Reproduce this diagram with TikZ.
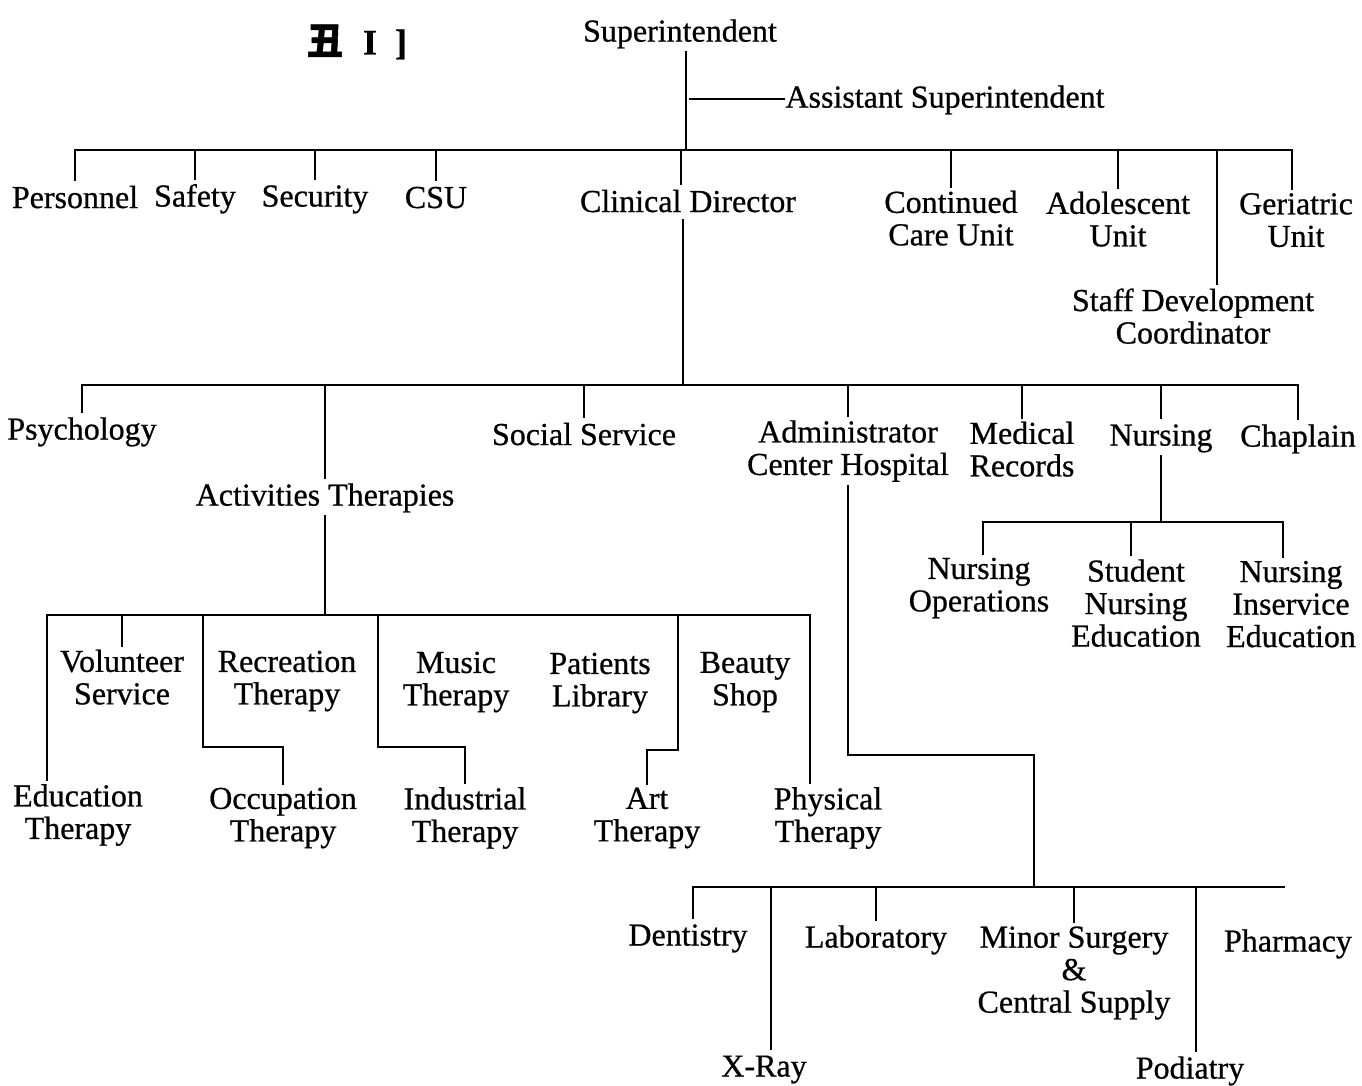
\documentclass[tikz,border=0pt]{standalone}
\usepackage{fontspec}
\setmainfont{Liberation Serif}[FakeBold=0.7]
\newfontfamily\cjkfont{Noto Sans CJK SC}[FakeBold=1.5]
\newcommand\unitstrut{\rule[-4pt]{0pt}{28pt}}
\tikzset{unit/.style={align=center, inner sep=0pt, outer sep=3pt,
    font=\fontsize{32}{32.5}\selectfont,
    execute at begin node=\unitstrut, execute at end node=\unitstrut},
  link/.style={line width=2.2pt},
  bar/.style={line width=2.8pt}
}

\begin{document}
\begin{tikzpicture}[x=1pt,y=-1pt]
      \useasboundingbox (0,0) rectangle (1362,1085);
      \node[unit, font=\fontsize{36}{36}\selectfont\bfseries] (title) at (357,42) {{\cjkfont 丑}\hspace{20pt}I\hspace{18pt}]};
      \node[unit] (sup) at (680,33) {Superintendent};
      \node[unit] (asst) at (945,99) {Assistant Superintendent};
      \node[unit] (pers) at (75,198) {Personnel};
      \node[unit] (safe) at (195,198) {Safety};
      \node[unit] (secu) at (315,198) {Security};
      \node[unit] (csu) at (436,198) {CSU};
      \node[unit] (clin) at (688,202) {Clinical Director};
      \node[unit] (cont) at (951,220) {Continued\\Care Unit};
      \node[unit] (adol) at (1118,221) {Adolescent\\Unit};
      \node[unit] (geri) at (1296,222) {Geriatric\\Unit};
      \node[unit] (staff) at (1193,318) {Staff Development\\Coordinator};
      \node[unit] (psy) at (82,431) {Psychology};
      \node[unit] (act) at (325,497) {Activities Therapies};
      \node[unit] (soc) at (584,435) {Social Service};
      \node[unit] (adm) at (848,451) {Administrator\\Center Hospital};
      \node[unit] (med) at (1022,451) {Medical\\Records};
      \node[unit] (nurs) at (1161,437) {Nursing};
      \node[unit] (chap) at (1298,438) {Chaplain};
      \node[unit] (nop) at (979,588) {Nursing\\Operations};
      \node[unit] (stu) at (1136,605) {Student\\Nursing\\Education};
      \node[unit] (nins) at (1291,606) {Nursing\\Inservice\\Education};
      \node[unit] (vol) at (122,679) {Volunteer\\Service};
      \node[unit] (rec) at (287,681) {Recreation\\Therapy};
      \node[unit] (mus) at (456,682) {Music\\Therapy};
      \node[unit] (lib) at (600,683) {Patients\\Library};
      \node[unit] (bea) at (745,682) {Beauty\\Shop};
      \node[unit] (edu) at (78,815) {Education\\Therapy};
      \node[unit] (occ) at (283,818) {Occupation\\Therapy};
      \node[unit] (ind) at (465,818) {Industrial\\Therapy};
      \node[unit] (art) at (647,818) {Art\\Therapy};
      \node[unit] (phy) at (828,818) {Physical\\Therapy};
      \node[unit] (den) at (688,937) {Dentistry};
      \node[unit] (lab) at (876,939) {Laboratory};
      \node[unit] (minor) at (1074,973) {Minor Surgery\\\&\\Central Supply};
      \node[unit] (pharm) at (1288,943) {Pharmacy};
      \node[unit] (xray) at (764,1068) {X-Ray};
      \node[unit] (pod) at (1190,1070) {Podiatry};
      \coordinate (b1) at (0,150);
      \coordinate (b2) at (0,385);
      \coordinate (bn) at (0,522);
      \coordinate (b3) at (0,615);
      \coordinate (b4) at (0,887);
      \coordinate (astart) at (689,99);
      \coordinate (edutop) at (47,615);
      \coordinate (phytop) at (810,615);
      \coordinate (occbend) at (203,747);
      \coordinate (indbend) at (378,747);
      \coordinate (artbend) at (678,750);
      \coordinate (admbend) at (1034,755);
      \coordinate (pharmend) at (1285,887);
      \draw[link] ([xshift=6pt]sup.south) -- ([xshift=6pt]sup.south |- b1);
      \draw[link] (astart) -- ([xshift=3pt]asst.west);
      \draw[bar] (pers.north) -- (pers.north |- b1) -- ([xshift=-4pt]geri.north |- b1) -- ([xshift=-4pt]geri.north);
      \foreach \n in {safe,secu,csu,cont,adol}
        \draw[link] (\n.north) -- (\n.north |- b1);
      \draw[link] ([xshift=-7pt]clin.north) -- ([xshift=-7pt]clin.north |- b1);
      \draw[link] ([xshift=24pt]staff.north) -- ([xshift=24pt]staff.north |- b1);
      \draw[link] ([xshift=-5pt]clin.south) -- ([xshift=-5pt]clin.south |- b2);
      \draw[bar] (psy.north) -- (psy.north |- b2) -- (chap.north |- b2) -- (chap.north);
      \foreach \n in {act,soc,adm,med,nurs}
        \draw[link] (\n.north) -- (\n.north |- b2);
      \draw[link] (nurs.south) -- (nurs.south |- bn);
      \draw[bar] ([xshift=4pt]nop.north) -- ([xshift=4pt]nop.north |- bn) -- ([xshift=-8pt]nins.north |- bn) -- ([xshift=-8pt]nins.north);
      \draw[link] ([xshift=-5pt]stu.north) -- ([xshift=-5pt]stu.north |- bn);
      \draw[link] (act.south) -- (act.south |- b3);
      \draw[bar] (edu.north -| edutop) -- (edutop) -- (phytop) -- (phy.north -| phytop);
      \draw[link] (vol.north) -- (vol.north |- b3);
      \draw[link] (occbend |- b3) -- (occbend) -| (occ.north);
      \draw[link] (indbend |- b3) -- (indbend) -| (ind.north);
      \draw[link] (artbend |- b3) -- (artbend) -| (art.north);
      \draw[link] (adm.south) |- (admbend) -- (admbend |- b4);
      \draw[bar] ([xshift=5pt]den.north) -- ([xshift=5pt]den.north |- b4) -- (pharmend);
      \draw[link] ([xshift=7pt]xray.north) -- ([xshift=7pt]xray.north |- b4);
      \draw[link] (lab.north) -- (lab.north |- b4);
      \draw[link] (minor.north) -- (minor.north |- b4);
      \draw[link] ([xshift=6pt]pod.north) -- ([xshift=6pt]pod.north |- b4);
    \end{tikzpicture}
\end{document}
